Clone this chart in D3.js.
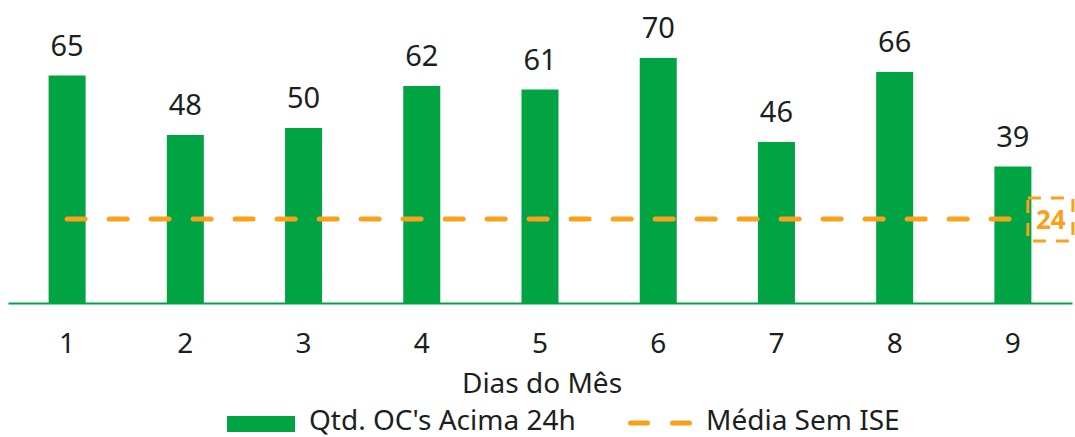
<!DOCTYPE html>
<html>
<head>
<meta charset="utf-8">
<script src="https://cdn.jsdelivr.net/npm/d3@7"></script>
<style>
  body { margin: 0; background: #fff; }
  text { font-family: "Noto Sans", sans-serif; fill: #1b1f1d; }
</style>
</head>
<body>
<script>
var w = 1075, h = 437;

var dias = ["1", "2", "3", "4", "5", "6", "7", "8", "9"];
var qtd = [65, 48, 50, 62, 61, 70, 46, 66, 39];
var media = [24, 24, 24, 24, 24, 24, 24, 24, 24];

var green = "#00a443", orange = "#f9a11b";

var svg = d3.select("body")
    .append("svg")
    .attr("width", w)
    .attr("height", h);

var xScale = d3.scaleBand()
    .domain(dias)
    .range([8, 1072])
    .padding(0);

var yScale = d3.scaleLinear()
    .domain([0, 70])
    .range([303, 58]);

var barW = 37;

// bars
svg.selectAll("rect.bar")
    .data(qtd)
    .enter()
    .append("rect")
    .attr("class", "bar")
    .attr("x", (d, i) => xScale(dias[i]) + xScale.bandwidth() / 2 - barW / 2)
    .attr("y", d => yScale(d))
    .attr("width", barW)
    .attr("height", d => yScale(0) - yScale(d))
    .style("fill", green);

// value labels
svg.selectAll("text.val")
    .data(qtd)
    .enter()
    .append("text")
    .attr("class", "val")
    .attr("x", (d, i) => xScale(dias[i]) + xScale.bandwidth() / 2)
    .attr("y", d => yScale(d) - 20)
    .attr("text-anchor", "middle")
    .style("font-size", "29px")
    .text(d => d);

// axis line
var xAxis = d3.axisBottom(xScale).tickSize(0).tickPadding(30);
var gx = svg.append("g")
    .attr("transform", "translate(0," + yScale(0) + ")")
    .call(xAxis);
gx.select(".domain").style("stroke", green).style("stroke-width", 2);
gx.selectAll("text")
    .style("font-size", "28px")
    .style("font-family", "Noto Sans, sans-serif")
    .style("fill", "#1b1f1d");

// mean line
var line = d3.line()
    .x((d, i) => xScale(dias[i]) + xScale.bandwidth() / 2)
    .y(d => yScale(d));

svg.append("path")
    .datum(media)
    .attr("d", line)
    .style("fill", "none")
    .style("stroke", orange)
    .style("stroke-width", 5)
    .style("stroke-linecap", "round")
    .style("stroke-dasharray", "18,24");

// mean label box
var lastX = xScale(dias[8]) + xScale.bandwidth() / 2;
var lastY = yScale(media[8]);
svg.append("rect")
    .attr("x", lastX + 15)
    .attr("y", lastY - 21)
    .attr("width", 45)
    .attr("height", 43)
    .style("fill", "none")
    .style("stroke", orange)
    .style("stroke-width", 3)
    .style("stroke-dasharray", "13,10");

svg.append("text")
    .attr("x", lastX + 38)
    .attr("y", lastY + 10)
    .attr("text-anchor", "middle")
    .style("font-size", "26px")
    .style("font-weight", "bold")
    .style("fill", orange)
    .text(media[8]);

// axis title
svg.append("text")
    .attr("x", 542)
    .attr("y", 393)
    .attr("text-anchor", "middle")
    .style("font-size", "28px")
    .text("Dias do Mês");

// legend
svg.append("rect")
    .attr("x", 227).attr("y", 416)
    .attr("width", 68).attr("height", 16)
    .style("fill", green);
svg.append("text")
    .attr("x", 309).attr("y", 430)
    .style("font-size", "28px")
    .text("Qtd. OC's Acima 24h");

svg.append("line")
    .attr("x1", 630.5).attr("x2", 691)
    .attr("y1", 423).attr("y2", 423)
    .style("stroke", orange)
    .style("stroke-width", 5)
    .style("stroke-linecap", "round")
    .style("stroke-dasharray", "17,25");
svg.append("text")
    .attr("x", 706).attr("y", 430)
    .style("font-size", "28px")
    .text("Média Sem ISE");
</script>
</body>
</html>
